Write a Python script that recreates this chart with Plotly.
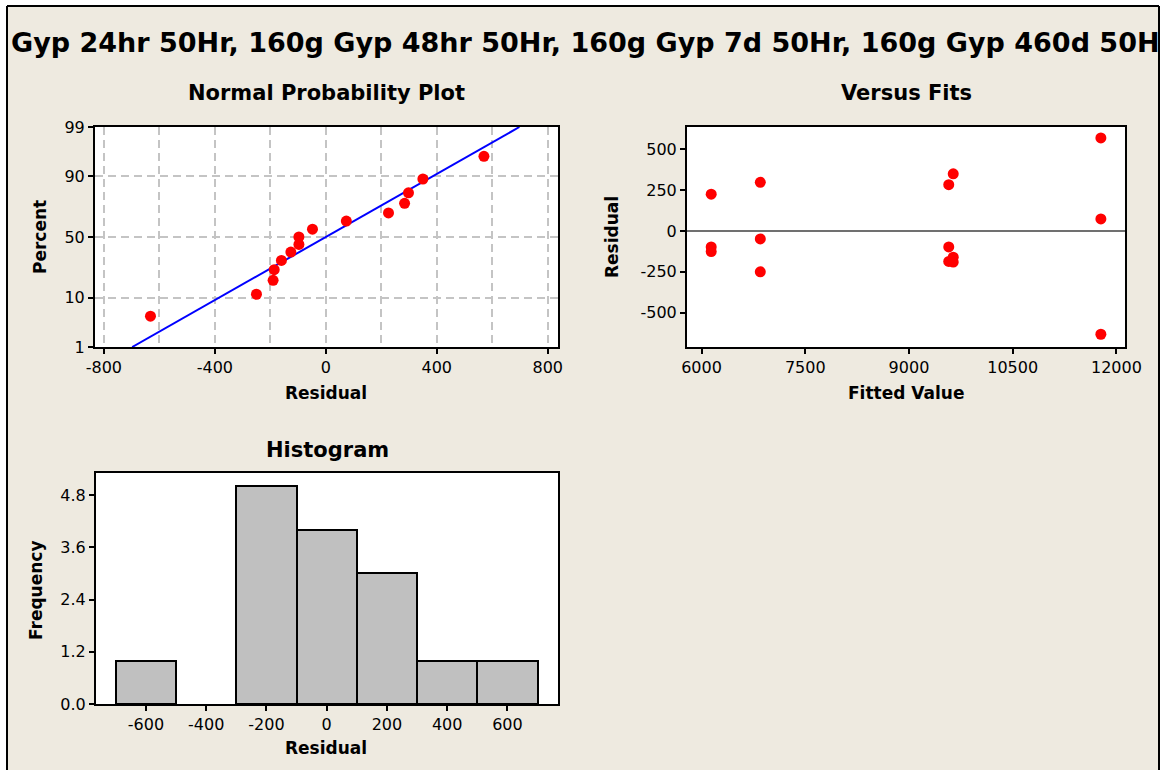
import plotly.graph_objects as go
from statistics import NormalDist

fitted = [6140, 6140, 6140, 6850, 6850, 6850, 9575, 9575, 9575,
          9640, 9640, 9640, 11775, 11775, 11775]
residuals = [226, -97, -126, 298, -48, -250, 284, -97, -186,
             350, -160, -190, 570, 74, -632]

# plotting positions (percent) of the sorted residuals
pct = [4.7, 11.3, 18.0, 24.5, 31.0, 37.5, 43.8, 50.0, 56.6, 63.2,
       69.5, 76.2, 82.5, 89.0, 95.6]

# fitted normal line
fit_mean = 0
fit_sd = 300

prob_ticks = [1, 10, 50, 90, 99]
npp_xticks = [-800, -400, 0, 400, 800]
fit_xticks = [6000, 7500, 9000, 10500, 12000]
fit_yticks = [500, 250, 0, -250, -500]
hist_xticks = [-600, -400, -200, 0, 200, 400, 600]
hist_yticks = [0.0, 1.2, 2.4, 3.6, 4.8]

title = "Gyp 24hr 50Hr, 160g Gyp 48hr 50Hr, 160g Gyp 7d 50Hr, 160g Gyp 460d 50Hr, 160g"

W, H = 1160, 770
BG = "#EEEAE0"
FONT = "DejaVu Sans"
nd = NormalDist()


def fx(p):
    return p / W


def fy(p):
    return 1 - p / H


z = [nd.inv_cdf(p / 100) for p in pct]
z_lo, z_hi = nd.inv_cdf(0.01), nd.inv_cdf(0.99)

fig = go.Figure()

fig.add_trace(go.Scatter(
    x=[fit_mean + fit_sd * z_lo, fit_mean + fit_sd * z_hi], y=[z_lo, z_hi],
    mode="lines", line=dict(color="#0000FF", width=2),
    xaxis="x", yaxis="y", showlegend=False))
fig.add_trace(go.Scatter(
    x=sorted(residuals), y=z, mode="markers",
    marker=dict(color="#FF0000", size=11, line=dict(width=0)),
    xaxis="x", yaxis="y", showlegend=False))

fig.add_trace(go.Scatter(
    x=fitted, y=residuals, mode="markers",
    marker=dict(color="#FF0000", size=11, line=dict(width=0)),
    xaxis="x2", yaxis="y2", showlegend=False))

fig.add_trace(go.Histogram(
    x=residuals, xbins=dict(start=-700, end=700, size=200),
    marker=dict(color="#C0C0C0", line=dict(color="black", width=2)),
    xaxis="x3", yaxis="y3", showlegend=False))

ax = dict(showline=True, linecolor="black", linewidth=2, mirror=True,
          ticks="outside", ticklen=5, tickwidth=2, tickcolor="black",
          showgrid=False, zeroline=False, automargin=False,
          tickfont=dict(family=FONT, size=16, color="black"))
grid = dict(showgrid=True, gridcolor="#C4C4C4", gridwidth=2, griddash="8px,5px")

fig.update_layout(
    width=W, height=H,
    margin=dict(l=0, r=0, t=0, b=0),
    paper_bgcolor=BG, plot_bgcolor="white",
    template="none",
    font=dict(family=FONT, color="black"),
    title=dict(text="<b>" + title + "</b>", x=11 / W, xanchor="left",
               y=fy(43), yanchor="middle",
               font=dict(family=FONT, size=27, color="black")),
    xaxis=dict(ax, **grid, domain=[fx(95), fx(558)], anchor="y",
               range=[-832, 837], tickvals=npp_xticks,
               ticktext=[str(v) for v in npp_xticks],
               minor=dict(dtick=200, tick0=-800, showgrid=True, gridcolor="#C4C4C4",
                          gridwidth=2, griddash="8px,5px", ticks="")),
    yaxis=dict(ax, **grid, domain=[fy(347), fy(127)], anchor="x",
               range=[z_lo, z_hi], tickvals=[nd.inv_cdf(p / 100) for p in prob_ticks],
               ticktext=[str(p) for p in prob_ticks]),
    xaxis2=dict(ax, domain=[fx(687), fx(1125)], anchor="y2",
                range=[5790, 12124], tickvals=fit_xticks,
                ticktext=[str(v) for v in fit_xticks]),
    yaxis2=dict(ax, domain=[fy(347), fy(127)], anchor="x2",
                range=[-710, 637], tickvals=fit_yticks,
                ticktext=[str(v) for v in fit_yticks]),
    xaxis3=dict(ax, domain=[fx(96), fx(558)], anchor="y3",
                range=[-766, 768], tickvals=hist_xticks,
                ticktext=[str(v) for v in hist_xticks]),
    yaxis3=dict(ax, domain=[fy(704), fy(473)], anchor="x3",
                range=[0, 5.31], tickvals=hist_yticks,
                ticktext=["%.1f" % v for v in hist_yticks]),
    bargap=0,
)

# zero reference line on the versus-fits panel
fig.add_shape(type="line", xref="x2 domain", yref="y2", x0=0, x1=1, y0=0, y1=0,
              line=dict(color="#404040", width=1.5))

# outer frame: white strip on the left/top, black border lines
fig.add_shape(type="rect", xref="paper", yref="paper", x0=0, x1=fx(7), y0=0, y1=1,
              fillcolor="white", line=dict(width=0))
fig.add_shape(type="rect", xref="paper", yref="paper", x0=0, x1=1, y0=fy(6), y1=1,
              fillcolor="white", line=dict(width=0))
fig.add_shape(type="line", xref="paper", yref="paper", x0=fx(7), x1=fx(7), y0=0, y1=fy(6),
              line=dict(color="black", width=2))
fig.add_shape(type="line", xref="paper", yref="paper", x0=fx(7), x1=fx(1159), y0=fy(6), y1=fy(6),
              line=dict(color="black", width=2))
fig.add_shape(type="line", xref="paper", yref="paper", x0=fx(1159), x1=fx(1159), y0=0, y1=fy(6),
              line=dict(color="black", width=2))


def label(text, x, y, size, angle=0):
    fig.add_annotation(text="<b>" + text + "</b>", xref="paper", yref="paper",
                       x=fx(x), y=fy(y), xanchor="center", yanchor="middle",
                       showarrow=False, textangle=angle,
                       font=dict(family=FONT, size=size, color="black"))


label("Normal Probability Plot", 326, 93, 21)
label("Versus Fits", 906, 93, 21)
label("Histogram", 327, 450, 21)
label("Residual", 326, 393, 17)
label("Fitted Value", 906, 393, 17)
label("Residual", 326, 748, 17)
label("Percent", 40, 237, 17, -90)
label("Residual", 612, 237, 17, -90)
label("Frequency", 36, 590, 17, -90)

fig.write_html("out.html", config={"displayModeBar": False},
               post_script="document.body.style.margin='0';")
